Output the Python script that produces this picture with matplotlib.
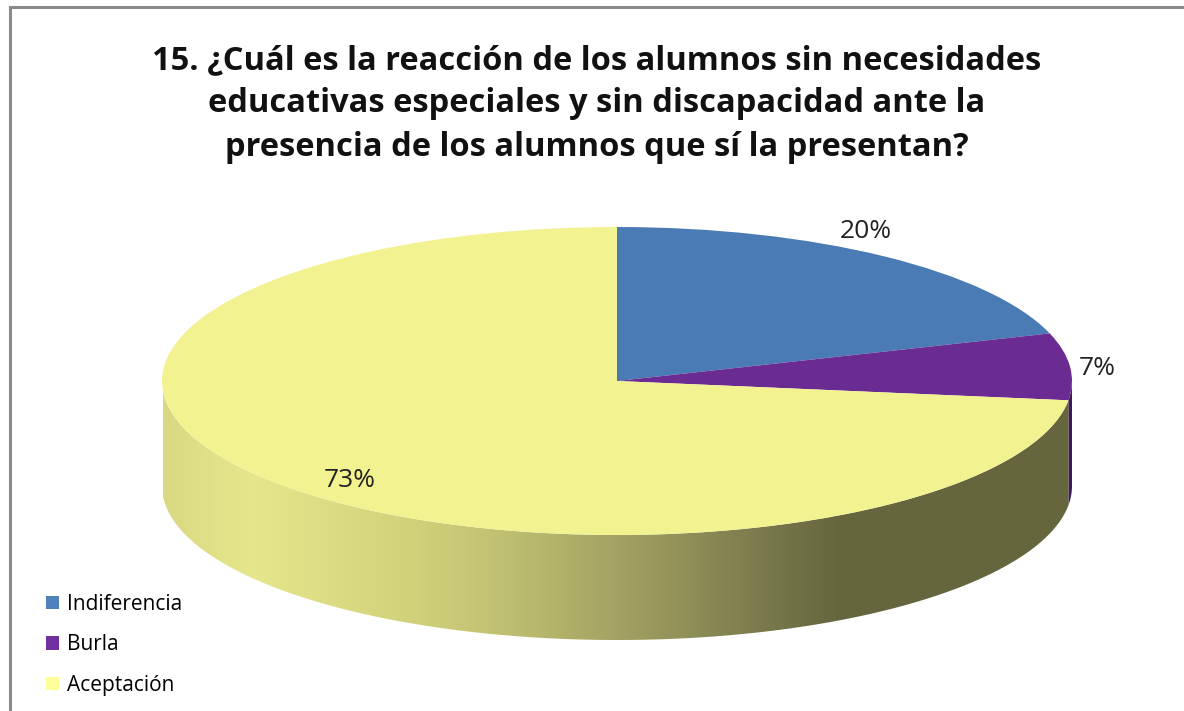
import numpy as np
import matplotlib
matplotlib.use("Agg")
import matplotlib.pyplot as plt
from matplotlib.patches import Polygon, Patch
from matplotlib.colors import LinearSegmentedColormap
from matplotlib.lines import Line2D

categories = ["Indiferencia", "Burla", "Aceptación"]
values = [20, 7, 73]
labels = ["20%", "7%", "73%"]
title = ("15. ¿Cuál es la reacción de los alumnos sin necesidades\n"
         "educativas especiales y sin discapacidad ante la\n"
         "presencia de los alumnos que sí la presentan?")

top_colors = ["#4a7bb5", "#6a2c92", "#f3f290"]
legend_colors = ["#4f81bd", "#7030a0", "#ffff99"]

W, H = 1184, 711
fig = plt.figure(figsize=(W / 100, H / 100), dpi=100)
fig.patch.set_facecolor("white")

# geometry of the 3D pie in pixels
cx, cy, a, b, thick = 617, 381, 455, 154, 105
t = thick / b
left = (cx - a) / W
bottom = (H - (cy + b + thick)) / H
ax = fig.add_axes([left, bottom, 2 * a / W, (2 * b + thick) / H])

# side walls (visible front part)
fr = np.cumsum([0] + values) / sum(values) * 360.0  # clockwise from 12 o'clock
def side_poly(th1, th2, n=200):
    th1 = max(th1, 90.0)
    th2 = min(th2, 270.0)
    if th2 <= th1:
        return None
    th = np.linspace(th1, th2, n)
    phi = np.deg2rad(90 - th)
    x = np.cos(phi)
    y = np.sin(phi)
    pts = np.concatenate([np.column_stack([x, y]), np.column_stack([x[::-1], y[::-1] - t])])
    return pts

side_dark = ["#2e4d73", "#3f1a58", None]
for i in range(len(values)):
    pts = side_poly(fr[i], fr[i + 1])
    if pts is None:
        continue
    if side_dark[i] is not None:
        ax.add_patch(Polygon(pts, closed=True, facecolor=side_dark[i], edgecolor="none", zorder=1))
    else:
        poly = Polygon(pts, closed=True, facecolor="none", edgecolor="none", zorder=1)
        ax.add_patch(poly)
        # horizontal lighting gradient
        stops_px = [163, 250, 420, 520, 650, 780, 840, 1075]
        stops_c = ["#d9d983", "#e6e68c", "#d0d07a", "#bcbc70", "#9a9a5e", "#75754a", "#66663e", "#66663e"]
        pos = [(p - stops_px[0]) / (stops_px[-1] - stops_px[0]) for p in stops_px]
        cmap = LinearSegmentedColormap.from_list("side", list(zip(pos, stops_c)))
        grad = np.linspace(0, 1, 512)[None, :]
        x0 = (stops_px[0] - cx) / a
        x1 = (stops_px[-1] - cx) / a
        im = ax.imshow(grad, cmap=cmap, extent=[x0, x1, -1 - t, 0.2], aspect="auto",
                       interpolation="bilinear", zorder=1)
        im.set_clip_path(poly)

# top surface via pie
wedges, _ = ax.pie(values, colors=top_colors, startangle=90, counterclock=False,
                   radius=1.0, wedgeprops=dict(linewidth=0))
for w in wedges:
    w.set_zorder(2)
ax.set_aspect("auto")
ax.set_xlim(-1, 1)
ax.set_ylim(-1 - t, 1)
ax.axis("off")

# data labels
label_pos = [(0.547, 0.97), (1.055, 0.084), (-0.587, -0.643)]
for lab, (lx, ly) in zip(labels, label_pos):
    ax.text(lx, ly, lab, ha="center", va="center", fontsize=19, color="#222222",
            family="Open Sans", zorder=5)

# title
fig.text(597 / W, 1 - 104 / H, title, ha="center", va="center", fontsize=23.5,
         fontweight="bold", family="Open Sans", linespacing=1.43, color="#111111")

# legend
handles = [Patch(facecolor=c, edgecolor="none") for c in legend_colors]
leg = fig.legend(handles, categories, loc="upper left",
                 bbox_to_anchor=(46 / W, 1 - 594 / H), frameon=False,
                 prop=dict(family="Open Sans", size=15), handlelength=0.6,
                 handleheight=0.6, handletextpad=0.4, labelspacing=0.93,
                 borderpad=0, borderaxespad=0)

# chart frame (left and top edges)
fig.add_artist(Line2D([9.5 / W, 9.5 / W], [0, 1 - 7 / H], transform=fig.transFigure,
                      color="#8a8a8a", linewidth=2.2))
fig.add_artist(Line2D([9.5 / W, 1], [1 - 7 / H, 1 - 7 / H], transform=fig.transFigure,
                      color="#8a8a8a", linewidth=2.2))

fig.savefig("out.png", dpi=100)
